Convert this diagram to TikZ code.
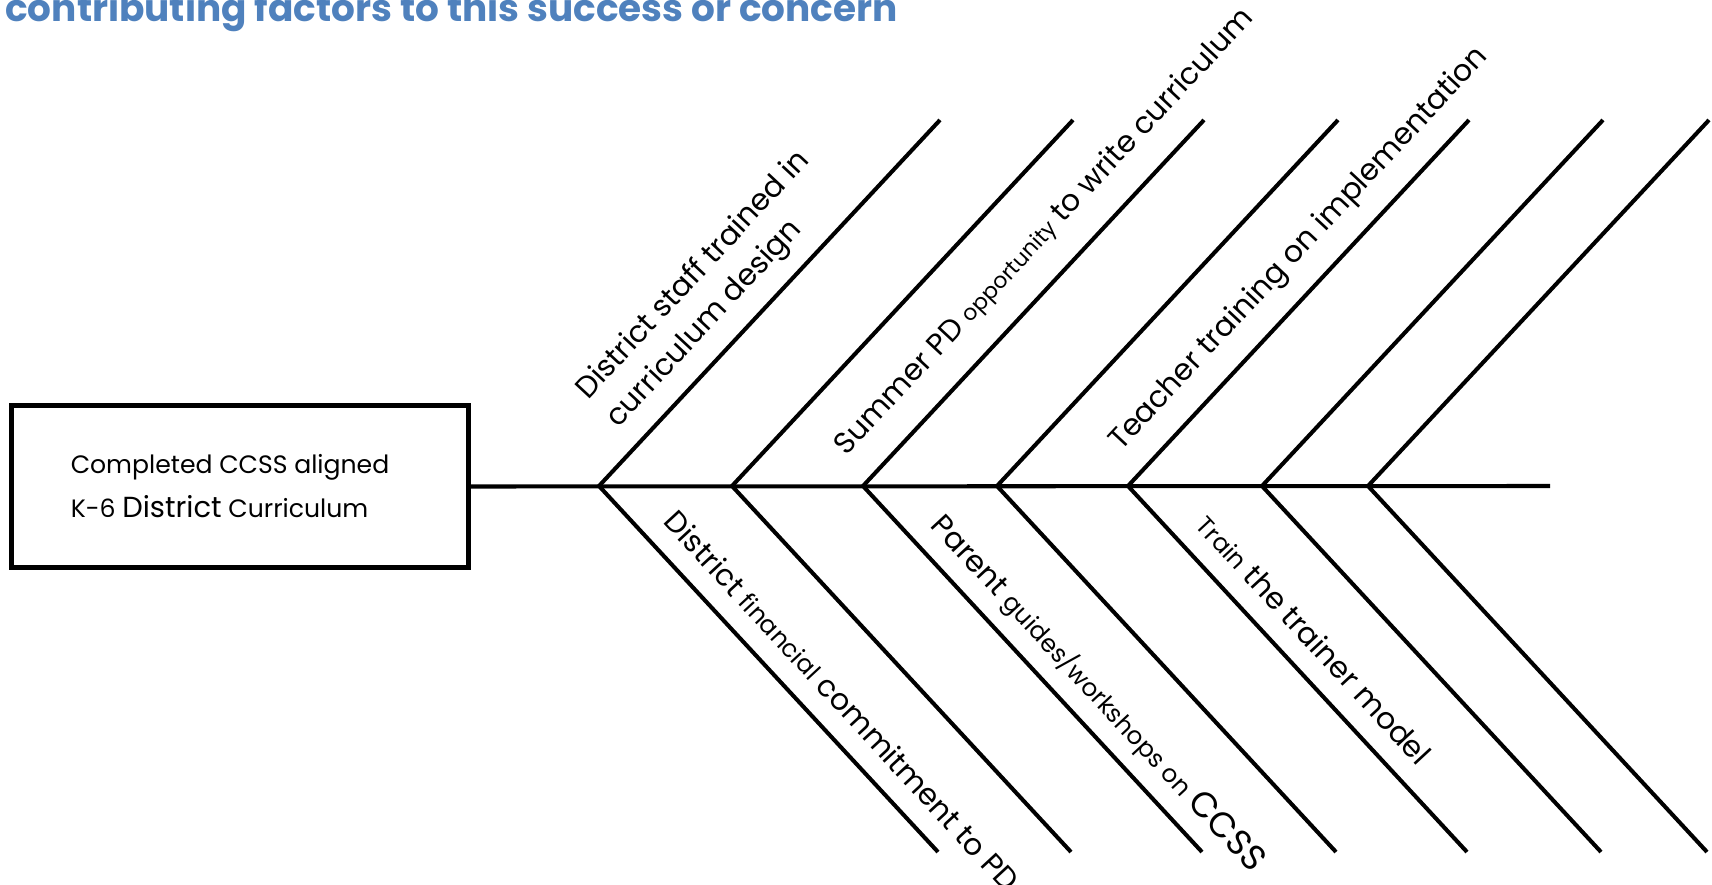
\documentclass[tikz,border=0pt]{standalone}
\usepackage{fontspec}
\setmainfont{Poppins}
\usepackage{tikz}
\usetikzlibrary{positioning}
\definecolor{headblue}{RGB}{79,129,189}
\newcommand{\lesser}[1]{{\fontsize{14}{17}\selectfont #1}}
\newcommand{\bigger}[1]{{\fontsize{20}{24}\selectfont #1}}

\tikzset{
  bone/.style={line width=2.3pt, line join=miter},
  cause/.style={sloped, anchor=south west, text depth=0pt, inner xsep=0pt,
    inner ysep=12pt, align=left, font=\fontsize{17}{23.5}\selectfont},
}

\begin{document}
\begin{tikzpicture}[x=0.02cm, y=-0.02cm]
\useasboundingbox (0,0) rectangle (1712,885);
\clip (0,0) rectangle (1712,885);

% heading, cut at the top edge
\node[anchor=base west, inner sep=0pt, text=headblue,
  font=\bfseries\fontsize{21.3}{25}\selectfont] (heading) at (5,22)
  {contributing factors to this success or concern};

% effect
\node[draw, line width=2.8pt, minimum width=9.14cm, minimum height=3.25cm,
  align=left, font=\fontsize{14.3}{25}\selectfont] (goal) at (240,486.5)
  {Completed CCSS aligned\hspace*{0.4cm}\\K-6 {\fontsize{16.5}{25}\selectfont District} Curriculum};

% spine
\coordinate (tail) at (1550,486);
\draw[bone] (goal.east) -- (tail);

% bones
\foreach \x [count=\i] in {599,732,863,997,1128,1262,1368} {
  \coordinate (j\i) at (\x,486);
  \coordinate (u\i) at (\x+341,120);
  \coordinate (l\i) at (\x+339,852);
  \draw[bone] (u\i) -- (j\i) -- (l\i);
}

% causes
\path (j1) -- (u1) node[cause, pos=0.11, inner ysep=14pt] (staff)
  {District staff trained in\\curriculum design};
\path (j3) -- (u3) node[cause, pos=0.02, inner ysep=18pt] (summer)
  {Summer PD {\fontsize{12.5}{15}\selectfont opportunity} to write curriculum};
\path (j5) -- (u5) node[cause, pos=0.04, inner ysep=16pt] (teacher)
  {Teacher training on implementation};
\path (j1) -- (l1) node[cause, pos=0.14] (finance)
  {District \lesser{financial} commitment to PD};
\path (j3) -- (l3) node[cause, pos=0.15] (parent)
  {Parent \lesser{guides/workshops on} \bigger{CCSS}};
\path (j5) -- (l5) node[cause, pos=0.15] (trainer)
  {\lesser{Train} the trainer model};
\end{tikzpicture}
\end{document}
